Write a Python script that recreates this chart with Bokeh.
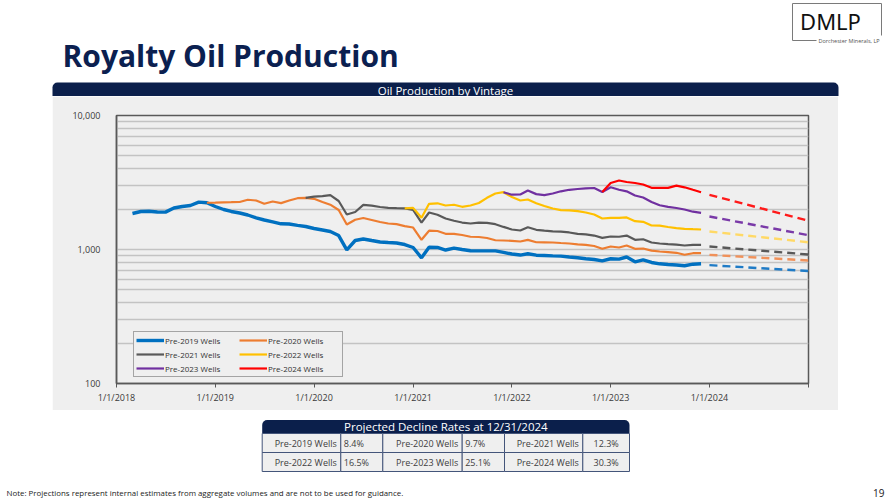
import pandas as pd
from bokeh.plotting import figure
from bokeh.models import (Range1d, FixedTicker, NumeralTickFormatter, Legend, LegendItem,
                          BoxAnnotation, Spacer)
from bokeh.layouts import column, row
from bokeh.core.properties import value
from bokeh.embed import file_html
from bokeh.resources import INLINE

# ---------------- data ----------------
series_names = ["Pre-2019 Wells", "Pre-2020 Wells", "Pre-2021 Wells",
                "Pre-2022 Wells", "Pre-2023 Wells", "Pre-2024 Wells"]
series_start = ["2018-03-01", "2018-12-01", "2019-12-01",
                "2020-12-01", "2021-12-01", "2022-12-01"]

pre2019 = [1857, 1922, 1931, 1905, 1900, 2040, 2094, 2130, 2255, 2232,
           2094, 1989, 1922, 1873, 1809, 1725, 1660, 1609, 1555, 1550, 1515,
           1485, 1435, 1398, 1362, 1271, 995, 1167, 1198, 1167, 1137, 1128, 1119, 1089,
           1035, 867, 1040, 1035, 991, 1023, 1000, 978,
           977, 977, 977, 953, 925, 909, 929, 907, 902, 896, 892, 879, 867, 853, 842, 823,
           853, 848, 879, 809, 838, 800, 782, 773, 766, 756, 777, 782]
pre2020 = [2232, 2240, 2250, 2255, 2262, 2352, 2321, 2193, 2281, 2217, 2321, 2414,
           2431, 2390, 2262, 2160, 1971, 1537, 1666, 1718, 1660, 1604, 1563, 1545, 1496,
           1459, 1181, 1381, 1374, 1309, 1309, 1283, 1245,
           1240, 1218, 1172, 1167, 1161, 1147, 1181, 1133, 1131, 1128, 1118, 1109, 1093, 1084, 1062, 1012,
           1053, 1035, 1071, 1012, 1017, 980, 966, 957, 945, 914, 938, 938]
pre2021 = [2431, 2477, 2500, 2542, 2301, 1824, 1905, 2153, 2123, 2075, 2043, 2033, 2030,
           1978, 1589, 1888, 1816, 1703, 1638, 1589, 1563,
           1589, 1582, 1545, 1474, 1410, 1386, 1467, 1403, 1381, 1367, 1358, 1340, 1309, 1298, 1271, 1221,
           1250, 1245, 1271, 1181, 1193, 1128, 1109, 1097, 1086, 1071, 1084, 1084]
pre2022 = [2030, 2046, 1724, 2193, 2212, 2130, 2157, 2083, 2130,
           2223, 2431, 2616, 2677, 2464, 2321, 2362, 2216, 2112, 2023, 1968, 1958, 1931, 1888, 1824, 1703,
           1724, 1724, 1734, 1626, 1609, 1511, 1506, 1472, 1446, 1427, 1417, 1410]
pre2023 = [2677, 2564, 2572, 2755, 2590, 2546, 2616, 2718, 2790, 2827, 2862, 2877, 2685,
           2917, 2793, 2718, 2529, 2443, 2262, 2138, 2083, 2040, 1989, 1915, 1879]
pre2024 = [2685, 3135, 3273, 3190, 3135, 3055, 2886, 2886, 2886, 2994, 2912, 2790, 2677]
series_values = [pre2019, pre2020, pre2021, pre2022, pre2023, pre2024]

# projected volumes through year-end 2024
proj_dates = ["2024-01-01", "2024-12-31"]
proj_start = [764, 912, 1053, 1362, 1763, 2559]
proj_end = [691, 828, 918, 1133, 1280, 1640]

decline_rates = ["8.4%", "9.7%", "12.3%", "16.5%", "25.1%", "30.3%"]

x_tick_dates = ["2018-01-01", "2019-01-01", "2020-01-01", "2021-01-01",
                "2022-01-01", "2023-01-01", "2024-01-01", "2025-01-01"]
x_tick_labels = ["1/1/2018", "1/1/2019", "1/1/2020", "1/1/2021",
                 "1/1/2022", "1/1/2023", "1/1/2024", ""]
y_ticks = [100, 1000, 10000]

# ---------------- style ----------------
NAVY = "#0B1F4B"
PANEL = "#EFEFEF"
AXIS = "#595959"
GRID = "#C3C3C3"
FONT = "Open Sans"
series_colors = ["#0070C0", "#ED7D31", "#595959", "#FFC000", "#7030A0", "#FF0000"]
proj_colors = ["#1F7BC6", "#F0915A", "#595959", "#FFD966", "#7A3AA8", "#FF1A1A"]
series_widths = [3.4, 2.2, 2.2, 2.2, 2.2, 2.2]


def ms(d):
    return int(pd.Timestamp(d).value // 10**6)


def page_fig(w, h):
    """A plain drawing surface measured in pixels, y counted from the top."""
    f = figure(width=w, height=h, x_range=Range1d(0, w), y_range=Range1d(0, h),
               x_axis_type=None, y_axis_type=None, output_backend="svg",
               toolbar_location=None, min_border=0, outline_line_color=None,
               background_fill_color="white", border_fill_color="white")
    f.grid.visible = False
    return f


def flip(h, ys):
    return [h - y for y in ys]


# ---------------- page header + chart title bar ----------------
HH = 96
head = page_fig(890, HH)
head.text(x=[62], y=flip(HH, [55]), text=["Royalty Oil Production"], text_font=value(FONT),
          text_font_style="bold", text_font_size="30px", text_color="#0B2050",
          text_baseline="alphabetic", text_align="left")
# logo frame
head.segment(x0=[792, 792, 881, 792], y0=flip(HH, [3, 3, 3, 40]),
             x1=[881, 792, 881, 816], y1=flip(HH, [3, 40, 35, 40]),
             line_color="#7A7A7A", line_width=1)
head.text(x=[830], y=flip(HH, [20]), text=["DMLP"], text_font=value("Noto Sans"),
          text_font_size="22px", text_color="#111111", text_align="center", text_baseline="middle")
head.text(x=[818], y=flip(HH, [40]), text=["Dorchester Minerals, LP"], text_font=value(FONT),
          text_font_size="5.5px", text_color="#555555", text_align="left", text_baseline="middle")
# chart title bar
head.add_layout(BoxAnnotation(left=52, right=838, top=HH - 82, bottom=0, level="underlay",
                              fill_color=NAVY, fill_alpha=1, line_color=None,
                              border_radius=(5, 5, 0, 0)))
head.text(x=[445], y=flip(HH, [89.5]), text=["Oil Production by Vintage"], text_font=value(FONT),
          text_font_size="11.5px", text_color="white", text_align="center", text_baseline="middle")

# ---------------- chart ----------------
chart = figure(width=786, height=314, x_axis_type="datetime", y_axis_type="log",
               x_range=Range1d(ms("2018-01-01"), ms("2025-01-01")), y_range=Range1d(100, 10000),
               output_backend="svg", toolbar_location=None,
               min_border_left=64, min_border_right=30, min_border_top=19, min_border_bottom=27,
               background_fill_color=PANEL, border_fill_color=PANEL,
               outline_line_color=AXIS, outline_line_width=1.5)

solid = []
for name, start, vals, col, w in zip(series_names, series_start, series_values,
                                     series_colors, series_widths):
    dates = pd.date_range(start, periods=len(vals), freq="MS")
    r = chart.line(dates, vals, line_color=col, line_width=w)
    solid.append(r)

pdates = pd.to_datetime(proj_dates)
for s, e, col in zip(proj_start, proj_end, proj_colors):
    chart.line(pdates, [s, e], line_color=col, line_width=2.4, line_dash="8 5")

x_ticks = [ms(d) for d in x_tick_dates]
chart.xaxis.ticker = FixedTicker(ticks=x_ticks)
chart.xaxis.major_label_overrides = {t: lab for t, lab in zip(x_ticks, x_tick_labels)}
chart.xaxis.major_tick_out = 4
chart.xaxis.major_tick_in = 0
chart.xaxis.minor_tick_line_color = None
chart.xaxis.major_label_standoff = 3
chart.xaxis.major_tick_line_color = AXIS

minor = [k * 10 ** e for e in (2, 3) for k in range(2, 10)]
chart.yaxis.ticker = FixedTicker(ticks=y_ticks, minor_ticks=minor)
chart.yaxis.formatter = NumeralTickFormatter(format="0,0")
chart.yaxis.major_tick_line_color = None
chart.yaxis.minor_tick_line_color = None
chart.yaxis.major_label_standoff = 10

for ax in (chart.xaxis, chart.yaxis):
    ax.axis_line_color = AXIS
    ax.axis_line_width = 1.5
    ax.major_label_text_font = FONT
    ax.major_label_text_font_size = "9px"
    ax.major_label_text_color = "#3A3A3A"

chart.xgrid.visible = False
chart.ygrid.grid_line_color = GRID
chart.ygrid.grid_line_width = 1.3
chart.ygrid.minor_grid_line_color = GRID
chart.ygrid.minor_grid_line_width = 1.3

legend = Legend(items=[LegendItem(label=n, renderers=[r]) for n, r in zip(series_names, solid)],
                location=(17, 6), orientation="horizontal", ncols=2,
                glyph_width=28, glyph_height=12, label_standoff=1, label_width=72, label_height=12,
                spacing=2, padding=2, margin=0,
                label_text_font=FONT, label_text_font_size="8px", label_text_color="#333333",
                background_fill_color=PANEL, background_fill_alpha=1,
                border_line_color=AXIS, border_line_width=1.5)
chart.add_layout(legend)

# ---------------- decline-rate table + footnote ----------------
TH = 91
tbl = page_fig(890, TH)
col_edges = [261.7, 340.3, 382.3, 461.7, 504, 582.3, 629]
row_edges = [23, 42, 61]
tbl.add_layout(BoxAnnotation(left=col_edges[0], right=col_edges[-1], top=TH - 9.5, bottom=TH - 23,
                             level="underlay", fill_color=NAVY, fill_alpha=1, line_color=None,
                             border_radius=(5, 5, 0, 0)))
tbl.text(x=[(col_edges[0] + col_edges[-1]) / 2], y=flip(TH, [16.4]),
         text=["Projected Decline Rates at 12/31/2024"], text_font=value(FONT),
         text_font_size="11.5px", text_color="white", text_align="center", text_baseline="middle")

lefts, rights, tops, bottoms = [], [], [], []
for ri in range(2):
    for ci in range(6):
        lefts.append(col_edges[ci]); rights.append(col_edges[ci + 1])
        tops.append(TH - row_edges[ri]); bottoms.append(TH - row_edges[ri + 1])
tbl.quad(left=lefts, right=rights, top=tops, bottom=bottoms, fill_color=PANEL,
         line_color="#44557A", line_width=1)

lab_x, lab_y, lab_t = [], [], []
val_x, val_y, val_t, val_align = [], [], [], []
for i, (name, rate) in enumerate(zip(series_names, decline_rates)):
    ri, ci = divmod(i, 3)
    yc = TH - (row_edges[ri] + row_edges[ri + 1]) / 2
    lab_x.append(col_edges[2 * ci + 1] - 4); lab_y.append(yc); lab_t.append(name)
    if ci < 2:
        val_x.append(col_edges[2 * ci + 1] + 3); val_align.append("left")
    else:
        val_x.append((col_edges[2 * ci + 1] + col_edges[2 * ci + 2]) / 2); val_align.append("center")
    val_y.append(yc); val_t.append(rate)
tbl.text(x=lab_x, y=lab_y, text=lab_t, text_font=value(FONT), text_font_size="9px",
         text_color="#404040", text_align="right", text_baseline="middle")
tbl.text(x=val_x, y=val_y, text=val_t, text_align=val_align, text_font=value(FONT),
         text_font_size="9px", text_color="#404040", text_baseline="middle")

tbl.text(x=[6], y=flip(TH, [82.5]),
         text=["Note: Projections represent internal estimates from aggregate volumes and are not to be used for guidance."],
         text_font=value(FONT), text_font_size="7.9px", text_color="#222222",
         text_align="left", text_baseline="middle")
tbl.text(x=[884], y=flip(TH, [82.5]), text=["19"], text_font=value(FONT), text_font_size="10px",
         text_color="#222222", text_align="right", text_baseline="middle")

page = column(head, row(Spacer(width=52, height=314), chart, spacing=0), tbl, spacing=0)

open("out.html", "w").write(file_html(page, INLINE))
